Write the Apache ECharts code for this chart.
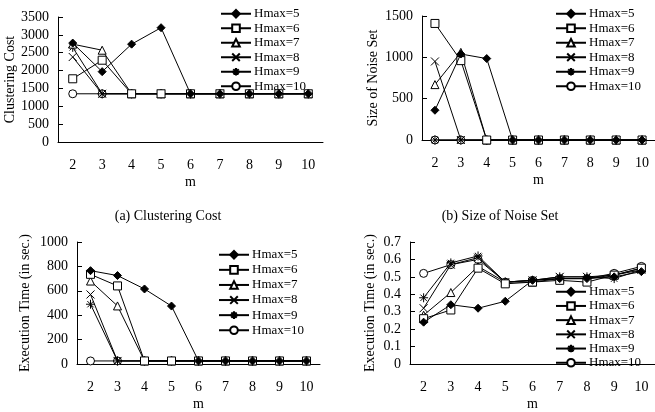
<!DOCTYPE html>
<html><head><meta charset="utf-8">
<script src="https://cdn.jsdelivr.net/npm/echarts@6/dist/echarts.min.js"></script>
<style>html,body{margin:0;padding:0;background:#fff}#c{width:655px;height:412px}</style>
</head><body><div id="c"></div>
<script>
const categories = ['2','3','4','5','6','7','8','9','10'];
const seriesNames = ['Hmax=5','Hmax=6','Hmax=7','Hmax=8','Hmax=9','Hmax=10'];

// (a) Clustering Cost
const costH5  = [2770, 1970, 2740, 3200, 1350, 1350, 1350, 1350, 1350];
const costH6  = [1770, 2290, 1350, 1350, 1350, 1350, 1350, 1350, 1350];
const costH7  = [2740, 2570, 1350, 1350, 1350, 1350, 1350, 1350, 1350];
const costH8  = [2380, 1350, 1350, 1350, 1350, 1350, 1350, 1350, 1350];
const costH9  = [2650, 1350, 1350, 1350, 1350, 1350, 1350, 1350, 1350];
const costH10 = [1350, 1350, 1350, 1350, 1350, 1350, 1350, 1350, 1350];

// (b) Size of Noise Set
const noiseH5  = [360, 1040, 985, 0, 0, 0, 0, 0, 0];
const noiseH6  = [1410, 960, 0, 0, 0, 0, 0, 0, 0];
const noiseH7  = [670, 1060, 0, 0, 0, 0, 0, 0, 0];
const noiseH8  = [950, 0, 0, 0, 0, 0, 0, 0, 0];
const noiseH9  = [0, 0, 0, 0, 0, 0, 0, 0, 0];
const noiseH10 = [0, 0, 0, 0, 0, 0, 0, 0, 0];

// (c) Execution Time
const timeH5  = [765, 725, 615, 475, 25, 25, 25, 25, 25];
const timeH6  = [735, 640, 25, 25, 25, 25, 25, 25, 25];
const timeH7  = [680, 476, 25, 25, 25, 25, 25, 25, 25];
const timeH8  = [570, 25, 25, 25, 25, 25, 25, 25, 25];
const timeH9  = [490, 25, 25, 25, 25, 25, 25, 25, 25];
const timeH10 = [25, 25, 25, 25, 25, 25, 25, 25, 25];

// (d) Execution Time (second)
const time2H5  = [0.24, 0.34, 0.32, 0.36, 0.48, 0.49, 0.49, 0.50, 0.53];
const time2H6  = [0.26, 0.31, 0.55, 0.46, 0.47, 0.48, 0.47, 0.51, 0.55];
const time2H7  = [0.28, 0.41, 0.56, 0.47, 0.47, 0.49, 0.49, 0.51, 0.55];
const time2H8  = [0.32, 0.57, 0.61, 0.47, 0.48, 0.50, 0.50, 0.51, 0.54];
const time2H9  = [0.38, 0.58, 0.62, 0.47, 0.48, 0.50, 0.50, 0.49, 0.54];
const time2H10 = [0.52, 0.57, 0.60, 0.47, 0.48, 0.49, 0.49, 0.52, 0.56];

const yTitles = ['Clustering Cost', 'Size of Noise Set', 'Execution Time (in sec.)', 'Execution Time (in sec.)'];
const captions = ['(a) Clustering Cost', '(b) Size of Noise Set'];

const panels = [
  [costH5, costH6, costH7, costH8, costH9, costH10],
  [noiseH5, noiseH6, noiseH7, noiseH8, noiseH9, noiseH10],
  [timeH5, timeH6, timeH7, timeH8, timeH9, timeH10],
  [time2H5, time2H6, time2H7, time2H8, time2H9, time2H10]
];

const FONT = 'Liberation Serif';
const symbols = [
  {symbol: 'diamond', size: 8, fill: '#000'},
  {symbol: 'rect', size: 8, fill: '#fff'},
  {symbol: 'triangle', size: 8, fill: '#fff'},
  {symbol: 'path://M0,0L10,10M10,0L0,10', size: 8, fill: 'none'},
  {symbol: 'path://M5,0L5,10M0,5L10,5M1.5,1.5L8.5,8.5M8.5,1.5L1.5,8.5', size: 9, fill: 'none'},
  {symbol: 'circle', size: 8, fill: '#fff'}
];

const grids = [
  {left: 58, top: 17, width: 265, height: 125},
  {left: 422, top: 16, width: 236, height: 124},
  {left: 77, top: 242, width: 243, height: 122},
  {left: 410, top: 242, width: 246, height: 124}
];
const yCfg = [
  {max: 3500, interval: 500, gap: 38},
  {max: 1500, interval: 500, gap: 42},
  {max: 1000, interval: 200, gap: 45},
  {max: 0.7, interval: 0.1, gap: 33}
];
const legendPos = [
  {left: 220, top: 7, gap: 1},
  {left: 555, top: 7, gap: 1},
  {left: 218, top: 248, gap: 1.6},
  {left: 555, top: 285, gap: 0.7}
];

const option = {
  animation: false,
  backgroundColor: '#fff',
  title: [
    {text: captions[0], left: 163, top: 204, textAlign: 'center', textStyle: {fontFamily: FONT, fontSize: 14, fontWeight: 'normal', color: '#000'}},
    {text: captions[1], left: 495, top: 204, textAlign: 'center', textStyle: {fontFamily: FONT, fontSize: 14, fontWeight: 'normal', color: '#000'}}
  ],
  grid: grids,
  xAxis: grids.map((g, i) => ({
    type: 'category', gridIndex: i, data: categories, boundaryGap: true,
    name: 'm', nameLocation: 'middle', nameGap: 33,
    nameTextStyle: {fontFamily: FONT, fontSize: 14, color: '#000'},
    axisLine: {lineStyle: {color: '#000', width: 1}},
    axisTick: {inside: true, length: 4, lineStyle: {color: '#000'}},
    axisLabel: {fontFamily: FONT, fontSize: 14, color: '#000', margin: 16},
    splitLine: {show: false}
  })),
  yAxis: grids.map((g, i) => ({
    type: 'value', gridIndex: i, min: 0, max: yCfg[i].max, interval: yCfg[i].interval,
    name: yTitles[i], nameLocation: 'middle', nameGap: yCfg[i].gap, nameRotate: 90,
    nameTextStyle: {fontFamily: FONT, fontSize: 14, color: '#000'},
    axisLine: {show: true, lineStyle: {color: '#000', width: 1}},
    axisTick: {show: true, inside: true, length: 5, lineStyle: {color: '#000'}},
    axisLabel: {fontFamily: FONT, fontSize: 14, color: '#000', margin: 9,
      formatter: v => String(Math.round(v * 100) / 100)},
    splitLine: {show: false}
  })),
  legend: legendPos.map((p, i) => ({
    left: p.left, top: p.top, orient: 'vertical', itemWidth: 30, itemHeight: 9.5, itemGap: p.gap,
    textStyle: {fontFamily: FONT, fontSize: 13, color: '#000', lineHeight: 13.5, padding: [0,0,0,-2]},
    data: seriesNames.map(n => ({name: n + '\u200b'.repeat(i)})),
    padding: 0
  })),
  series: []
};

panels.forEach((pdata, pi) => {
  pdata.forEach((vals, si) => {
    const s = symbols[si];
    option.series.push({
      type: 'line', name: seriesNames[si] + '\u200b'.repeat(pi),
      xAxisIndex: pi, yAxisIndex: pi, data: vals, z: 10 - si,
      symbol: s.symbol, symbolSize: s.size, showSymbol: true,
      lineStyle: {color: '#000', width: 1},
      itemStyle: {color: s.fill === 'none' ? '#000' : s.fill, borderColor: '#000', borderWidth: 1},
      emphasis: {disabled: true}
    });
  });
});

const chart = echarts.init(document.getElementById('c'), null, {renderer: 'canvas'});
chart.setOption(option);
</script>
</body></html>
